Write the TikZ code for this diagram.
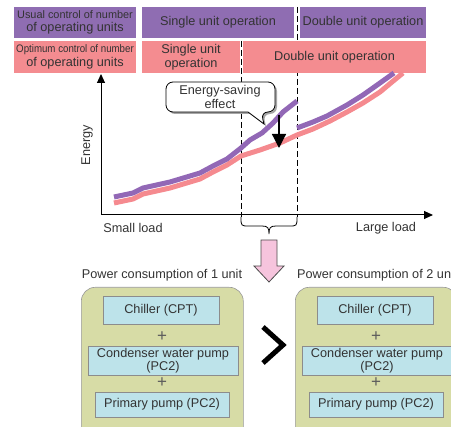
\documentclass[tikz,border=0pt]{standalone}
\usepackage{fontspec}
\setmainfont{Liberation Sans}
\usepackage{graphicx}
\usetikzlibrary{arrows.meta}
\definecolor{purp}{HTML}{8F6DB2}
\definecolor{pinkb}{HTML}{F48C90}
\definecolor{purl}{HTML}{9268B6}
\definecolor{pinkl}{HTML}{F58A8F}
\definecolor{greenb}{HTML}{D7DCA6}
\definecolor{blueb}{HTML}{BDE3EA}
\definecolor{arrowpink}{HTML}{F6C4DD}
\definecolor{txt}{HTML}{333333}
\begin{document}
\begin{tikzpicture}[x=1pt,y=-1pt,
  font=\fontsize{12.7}{13.5}\selectfont, text=txt,
  hdr/.style={inner sep=0, align=center, text=txt, minimum height=31},
  hdrp/.style={hdr, fill=purp},
  hdrk/.style={hdr, fill=pinkb, minimum height=32},
  lbl/.style={inner sep=0, text=txt},
  plus/.style={inner sep=0, text=txt!80, font=\fontsize{17}{17}\selectfont},
  greenbox/.style={draw=gray!80, fill=greenb, rounded corners=14, minimum width=162, minimum height=170, anchor=north west, line width=0.6},
  bluebox/.style={draw=gray!90, fill=blueb, inner sep=0, align=center, line width=0.6},
  curve/.style={line width=5, line join=round},
  dashline/.style={dash pattern=on 6pt off 3pt, line width=0.9}
]
\useasboundingbox (0,0) rectangle (451,427);
\clip (0,0) rectangle (451,427);

% dashed lines (behind header boxes)
\coordinate (d1t) at (241,41);
\coordinate (d1b) at (241,217);
\coordinate (d2t) at (297,7);
\coordinate (d2b) at (297,217);
\draw[dashline] (d1t) -- (d1b);
\draw[dashline] (d2t) -- (d2b);

% header rows
\node[hdrp, minimum width=122] (u1) at (75,22.5) {{\fontsize{10.9}{12}\selectfont Usual control of number}\\of operating units};
\node[hdrp, minimum width=152] (u2) at (218,22.5) {Single unit operation};
\node[hdrp, minimum width=126] (u3) at (363,22.5) {Double unit operation};
\node[hdrk, minimum width=122] (o1) at (75,57) {{\fontsize{10.9}{12}\selectfont\scalebox{0.89}[1]{Optimum control of number}}\\of operating units};
\node[hdrk, minimum width=98] (o2) at (191,57) {Single unit\\operation};
\node[hdrk, minimum width=183] (o3) at (334.5,57) {Double unit operation};

% axes
\coordinate (org) at (101,215);
\coordinate (ytop) at (101,74);
\coordinate (xend) at (433,215);
\draw[line width=1, -{Triangle[width=8,length=9]}] (org) -- (ytop);
\draw[line width=1, -{Triangle[width=8,length=9]}] (org) -- (xend);
\node[lbl, rotate=90] (en) at (87,145) {Energy};
\node[lbl] (sl) at (133,228) {Small load};
\node[lbl] (ll) at (386,228) {Large load};

% brace
\coordinate (brtip) at (269,234);
\draw[line width=0.8] (d1b) .. controls (241,226) and (241,226) .. (249,226) -- (262,226)
  .. controls (268,226) and (269,228) .. (brtip)
  .. controls (269,228) and (270,226) .. (276,226) -- (289,226)
  .. controls (297,226) and (297,226) .. (d2b);

% curves
\draw[curve, pinkl] (114,203) -- (133,199) -- (143,194) -- (170,188) -- (180,185) -- (200,179) -- (213,172) -- (227,165) -- (241,156) -- (260,150) -- (280,143) -- (297,135) -- (313,129) -- (330,121) -- (347,112) -- (363,103) -- (380,92) -- (392,82) -- (403,73);
\draw[curve, purl] (114,197) -- (133,193) -- (143,188) -- (170,182) -- (180,179) -- (200,173) -- (213,166) -- (227,159) -- (241,148) -- (250,140) -- (262,133) -- (273,123) -- (283,112) -- (297,101);
\draw[curve, purl] (297,128) -- (313,122) -- (327,116) -- (347,105) -- (363,95) -- (380,83) -- (394,73);

% callout
\fill[gray!70, rounded corners=7] (168,84) -- (277,84) -- (277,114) -- (263,114) [sharp corners] -- (266,126) -- (250,114) [rounded corners=7] -- (168,114) -- cycle;
\draw[fill=white, line width=0.8, rounded corners=7] (166,82) -- (275,82) -- (275,112) -- (261,112) [sharp corners] -- (264,124) -- (248,112) [rounded corners=7] -- (166,112) -- cycle;
\node[lbl, align=center] (es) at (220,97) {Energy-saving\\effect};
\coordinate (as) at (279,115);
\coordinate (ae) at (279,148);
\draw[line width=1.2, -{Triangle[width=14,length=14]}] (as) -- (ae);

% pink arrow
\draw[fill=arrowpink, draw=black!70, line width=0.8] (261,240) -- (277,240) -- (277,266) -- (284,266) -- (269,282) -- (254,266) -- (261,266) -- cycle;

% power consumption labels
\node[lbl] (p1) at (162,275) {Power consumption of 1 unit};
\node[lbl, anchor=west] (p2) at (297,275) {Power consumption of 2 un};

% green boxes
\node[greenbox] (g1) at (81,287) {};
\node[greenbox] (g2) at (295,287) {};

\node[bluebox, minimum width=116, minimum height=28] (c1) at (161,310) {Chiller (CPT)};
\node[plus] (pl1a) at (162,337) {+};
\node[bluebox, minimum width=150, minimum height=29] (w1) at (163,360.5) {Condenser water pump\\(PC2)};
\node[plus] (pl1b) at (162,382.5) {+};
\node[bluebox, minimum width=134, minimum height=25] (r1) at (162,404.5) {Primary pump (PC2)};

\node[bluebox, minimum width=116, minimum height=28] (c2) at (375,310) {Chiller (CPT)};
\node[plus] (pl2a) at (376,337) {+};
\node[bluebox, minimum width=150, minimum height=29] (w2) at (377,360.5) {Condenser water pump\\(PC2)};
\node[plus] (pl2b) at (376,382.5) {+};
\node[bluebox, minimum width=134, minimum height=25] (r2) at (376,404.5) {Primary pump (PC2)};

% greater-than chevron
\coordinate (ch1) at (263,327);
\coordinate (ch2) at (283,345);
\coordinate (ch3) at (263,363);
\draw[line width=5, miter limit=10] (ch1) -- (ch2) -- (ch3);
\end{tikzpicture}
\end{document}
